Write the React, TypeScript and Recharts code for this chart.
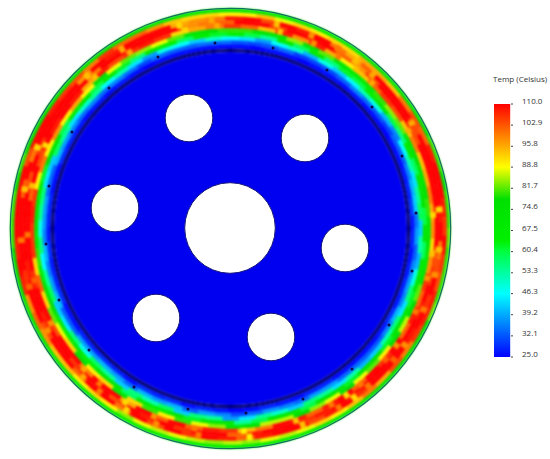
import React from 'react';
import { PieChart, Pie, Cell, ScatterChart, Scatter, XAxis, YAxis, BarChart, Bar } from 'recharts';

// temperature per 5 degree sector, clockwise from the top, outermost ring first
const ring216 = [72,72,70,72,72,70,72,72,74,72,74,72,78,80,80,78,80,80,82,80,80,80,82,78,78,76,74,76,74,72,72,70,70,68,68,66,66,66,68,66,68,66,68,68,68,70,70,72,72,72,76,78,78,80,80,80,78,80,78,76,76,74,72,72,72,74,72,70,72,72,70,72];
const ring212 = [90,94,88,92,90,92,92,96,96,94,100,104,102,108,110,110,108,106,110,106,104,108,108,106,100,104,96,100,94,90,92,88,86,88,84,86,84,86,88,86,88,84,90,92,90,94,94,98,102,98,108,110,108,110,110,110,110,104,110,110,108,106,104,100,106,102,102,98,94,92,92,90];
const ring208 = [108,110,104,110,108,110,100,96,102,110,110,110,104,110,110,110,110,108,110,100,104,110,106,110,108,110,110,110,106,110,108,104,110,110,108,102,108,110,106,110,104,110,100,110,110,102,110,110,104,110,110,106,110,110,110,110,102,110,100,110,110,110,110,98,110,108,110,110,110,96,98,100];
const ring204 = [110,110,106,110,110,110,102,98,104,110,110,110,104,110,110,110,110,110,110,104,106,110,108,110,110,110,110,110,108,110,108,106,110,110,108,102,110,110,106,110,108,110,104,110,110,106,110,110,108,110,110,108,110,110,110,110,104,110,106,110,110,110,110,100,110,110,110,110,110,98,100,102];
const ring200 = [106,102,94,108,98,108,96,90,94,102,106,104,94,100,94,96,100,96,98,92,98,106,102,108,102,110,106,110,102,110,108,102,108,110,100,94,106,108,102,110,102,110,96,110,110,100,110,110,104,110,110,106,110,110,110,110,102,110,104,110,108,110,108,96,108,104,106,108,106,92,96,100];
const ring196 = [80,74,70,84,74,82,72,68,70,80,84,82,72,78,72,76,80,72,74,70,74,82,78,86,78,90,82,88,78,88,84,78,86,86,76,72,84,88,80,90,80,92,74,92,90,78,92,88,82,92,102,92,106,106,108,106,90,100,90,98,90,96,90,76,88,82,84,88,82,74,76,80];
const ring192 = [66,60,54,70,58,68,56,62,60,66,70,60,56,68,58,70,74,60,72,58,68,72,62,70,72,62,74,70,62,72,72,60,70,70,60,54,70,72,62,74,64,70,58,72,74,64,72,66,68,78,76,66,80,70,78,74,66,62,76,72,60,66,70,60,70,62,56,68,64,58,66,62];
const ring188 = [44,38,46,50,40,48,42,46,52,48,40,36,46,52,44,54,58,42,52,40,48,56,44,56,52,42,40,52,44,54,56,42,50,54,44,38,54,56,42,58,52,56,42,54,58,48,56,44,42,58,54,46,56,48,54,56,44,42,58,54,44,50,54,46,52,44,38,48,46,42,50,46];
const ring184 = [32,31,32,34,30,31,31,33,36,34,32,30,33,33,36,40,42,35,38,33,36,38,36,40,36,33,33,34,34,38,38,34,36,38,34,31,36,38,33,40,38,40,34,38,40,38,38,33,33,40,38,36,40,36,38,38,34,33,40,38,36,34,36,34,36,34,31,34,33,33,34,34];
const ring180 = [26,25,26,26,25,26,26,26,27,26,26,25,26,26,27,28,30,27,28,26,27,28,27,29,27,26,26,26,26,28,28,26,27,28,26,25,27,28,26,29,28,29,26,28,29,28,28,26,26,29,28,27,29,27,28,28,26,26,29,28,27,26,27,26,27,26,25,26,26,26,26,26];

const rings = [
  { temps: ring216, inner: 216, outer: 220, turn: 0 },
  { temps: ring212, inner: 212, outer: 216, turn: 2 },
  { temps: ring208, inner: 208, outer: 212, turn: -1.5 },
  { temps: ring204, inner: 204, outer: 208, turn: 1 },
  { temps: ring200, inner: 200, outer: 204, turn: -2 },
  { temps: ring196, inner: 196, outer: 200, turn: 1.5 },
  { temps: ring192, inner: 192, outer: 196, turn: -1 },
  { temps: ring188, inner: 188, outer: 192, turn: 2.5 },
  { temps: ring184, inner: 184, outer: 188, turn: 0 },
  { temps: ring180, inner: 180, outer: 184, turn: 1 },
];

// yellow seams between the hot cells: clockwise angle from the top and their temperature
const seamAngle = [12, 22, 30, 36, 42, 59, 84, 95, 102, 112, 123, 128, 138, 143, 148, 159, 174, 188, 200, 209, 218, 224, 240, 253, 266, 280, 292, 316, 328, 345, 354];
const seamTemp = [94, 98, 100, 94, 96, 96, 92, 94, 98, 100, 98, 102, 100, 92, 100, 94, 90, 100, 98, 92, 100, 96, 98, 102, 100, 94, 92, 94, 96, 92, 96];
const seamWidth = 1.6;
const seamBands = [
  { inner: 206, outer: 213, turn: 0 },
  { inner: 200, outer: 206, turn: 1.4 },
];

// holes and bolt marks, measured from the centre of the disc
const holeX = [-41, 75, -115, 115, -74, 41];
const holeY = [110, 90, 20, -20, -90, -109];
const boreX = [0];
const boreY = [0];
const boltX = [43, 97, 142, 172, 186, 182, 159, 122, 73, 16, -42, -96, -141, -171, -184, -181, -158, -121, -72, -15];
const boltY = [180, 158, 121, 72, 15, -43, -97, -141, -171, -185, -181, -159, -122, -72, -16, 42, 96, 140, 171, 185];

const scaleTicks = [25.0, 32.1, 39.2, 46.3, 53.3, 60.4, 67.5, 74.6, 81.7, 88.8, 95.8, 102.9, 110.0];
const scaleStops = [
  { t: 25, color: '#0000ff' },
  { t: 46.3, color: '#00ffff' },
  { t: 60.4, color: '#00ff40' },
  { t: 64, color: '#00f000' },
  { t: 78, color: '#00e000' },
  { t: 88.8, color: '#ffff00' },
  { t: 110, color: '#ff0000' },
];

const hex = (c: string, i: number) => parseInt(c.slice(1 + i * 2, 3 + i * 2), 16);

const tempColor = (t: number) => {
  for (let i = 1; i < scaleStops.length; i++) {
    const a = scaleStops[i - 1];
    const b = scaleStops[i];
    if (t <= b.t) {
      const f = (t - a.t) / (b.t - a.t);
      const ch = [0, 1, 2].map((k) => Math.round(hex(a.color, k) + (hex(b.color, k) - hex(a.color, k)) * f));
      return `rgb(${ch[0]},${ch[1]},${ch[2]})`;
    }
  }
  return '#ff0000';
};

// seams become narrow sectors with empty sectors between them
const seamSectors = () => {
  const out: { value: number; temp: number | null }[] = [];
  let at = 0;
  seamAngle.forEach((a, i) => {
    out.push({ value: a - at, temp: null });
    out.push({ value: seamWidth, temp: seamTemp[i] });
    at = a + seamWidth;
  });
  out.push({ value: 360 - at, temp: null });
  return out;
};

const toPoints = (xs: number[], ys: number[]) => xs.map((x, i) => ({ x, y: ys[i] }));

const CX = 230.5;
const CY = 228.5;
const fontFamily = '"Open Sans", sans-serif';

const circleShape = (r: number, fill: string, stroke: string) => (props: any) => (
  <circle cx={props.cx} cy={props.cy} r={r} fill={fill} stroke={stroke} strokeWidth={1} />
);

const ScaleTick = (props: any) => (
  <text x={props.x + 7} y={props.y - 3} dy={3} fontSize={8} fill="#333" fontFamily={fontFamily}>
    {props.payload.value.toFixed(1)}
  </text>
);

const solidRing = (inner: number, outer: number, fill: string) => (
  <Pie
    key={inner}
    data={[{ value: 1 }]}
    dataKey="value"
    cx={CX}
    cy={CY}
    innerRadius={inner}
    outerRadius={outer}
    stroke="none"
    strokeWidth={0}
    isAnimationActive={false}
    legendType="none"
  >
    <Cell fill={fill} stroke="none" strokeWidth={0} />
  </Pie>
);

export default function App() {
  const seams = seamSectors();
  return (
    <div style={{ position: 'absolute', left: 0, top: 0, width: 550, height: 459, background: '#fff', overflow: 'hidden' }}>
      {/* rings are blurred a little so the sectors melt together like the contour plot */}
      <div style={{ position: 'absolute', left: 0, top: 0, filter: 'blur(1.1px)' }}>
        <PieChart width={550} height={459} margin={{ top: 0, right: 0, bottom: 0, left: 0 }}>
          {rings.map((ring) => (
            <Pie
              key={ring.inner}
              data={ring.temps.map((temp) => ({ value: 1, temp }))}
              dataKey="value"
              cx={CX}
              cy={CY}
              innerRadius={ring.inner}
              outerRadius={ring.outer}
              startAngle={90 - ring.turn}
              endAngle={-270 - ring.turn}
              paddingAngle={0}
              stroke="none"
              isAnimationActive={false}
              legendType="none"
            >
              {ring.temps.map((temp, i) => (
                <Cell key={i} fill={tempColor(temp)} stroke={tempColor(temp)} strokeWidth={0.5} />
              ))}
            </Pie>
          ))}
          {seamBands.map((band) => (
            <Pie
              key={band.inner}
              data={seams}
              dataKey="value"
              cx={CX}
              cy={CY}
              innerRadius={band.inner}
              outerRadius={band.outer}
              startAngle={90 - band.turn}
              endAngle={-270 - band.turn}
              stroke="none"
              strokeWidth={0}
              isAnimationActive={false}
              legendType="none"
            >
              {seams.map((s, i) => (
                <Cell key={i} fill={s.temp === null ? 'none' : tempColor(s.temp)} stroke="none" strokeWidth={0} />
              ))}
            </Pie>
          ))}
          {solidRing(179.5, 180.5, '#0000e8')}
          {solidRing(176.5, 179.5, '#000070')}
          {solidRing(0, 176.5, '#0000f0')}
        </PieChart>
      </div>

      <div style={{ position: 'absolute', left: 0, top: 0 }}>
        <PieChart width={550} height={459} margin={{ top: 0, right: 0, bottom: 0, left: 0 }}>
          {solidRing(219.6, 220.8, '#12705c')}
        </PieChart>
      </div>

      <div style={{ position: 'absolute', left: CX - 230.7, top: CY - 230.7 }}>
        <ScatterChart width={460} height={460} margin={{ top: 0, right: 0, bottom: 0, left: 0 }}>
          <XAxis type="number" dataKey="x" domain={[-230, 230]} hide />
          <YAxis type="number" dataKey="y" domain={[-230, 230]} hide />
          <Scatter data={toPoints(boltX, boltY)} shape={circleShape(1.5, '#0a0a50', 'none')} isAnimationActive={false} />
          <Scatter data={toPoints(holeX, holeY)} shape={circleShape(23.8, '#ffffff', '#14147a')} isAnimationActive={false} />
          <Scatter data={toPoints(boreX, boreY)} shape={circleShape(45.3, '#ffffff', '#14147a')} isAnimationActive={false} />
        </ScatterChart>
      </div>

      <div style={{ position: 'absolute', left: 493, top: 73, fontSize: 8, lineHeight: '12px', color: '#333', fontFamily, whiteSpace: 'nowrap' }}>
        Temp (Celsius)
      </div>
      <div style={{ position: 'absolute', left: 490, top: 90 }}>
        <BarChart width={60} height={269} data={[{ name: 'Temp', value: 110 }]} margin={{ top: 14, right: 0, bottom: 2, left: 3 }}>
          <defs>
            <linearGradient id="tempScale" x1="0" y1="1" x2="0" y2="0">
              {scaleStops.map((s) => (
                <stop key={s.t} offset={(s.t - 25) / 85} stopColor={s.color} />
              ))}
            </linearGradient>
          </defs>
          <XAxis dataKey="name" hide />
          <YAxis
            orientation="right"
            type="number"
            domain={[25, 110]}
            ticks={scaleTicks}
            interval={0}
            width={39}
            axisLine={false}
            tickSize={2}
            tickLine={{ stroke: '#444' }}
            tick={<ScaleTick />}
          />
          <Bar dataKey="value" fill="url(#tempScale)" barSize={18} isAnimationActive={false} />
        </BarChart>
      </div>
    </div>
  );
}
